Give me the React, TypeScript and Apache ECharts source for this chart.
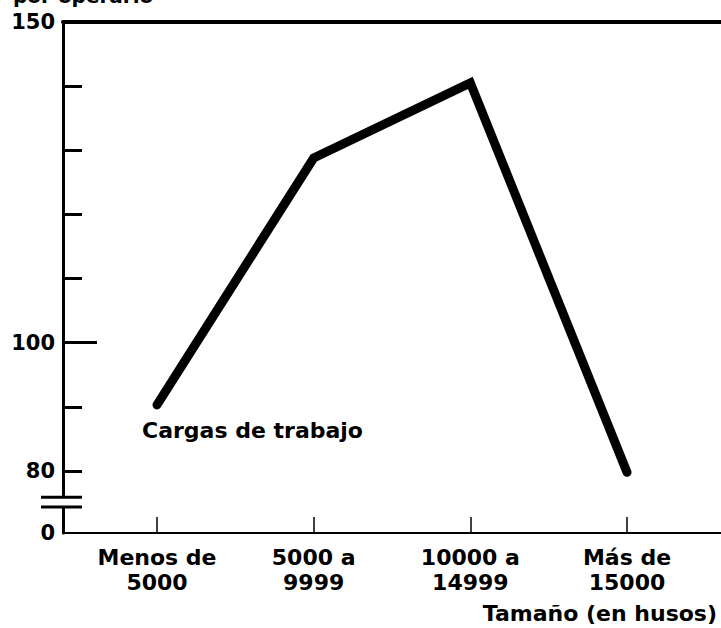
import React, { useEffect, useRef } from "react";
import * as echarts from "echarts";

const categories = ["Menos de\n5000", "5000 a\n9999", "10000 a\n14999", "Más de\n15000"];
const categoryPositions = [0, 1, 2, 3];
const cargas = [90.3, 128.8, 140.5, 79.8];
const yTicks = [80, 90, 100, 110, 120, 130, 140];
const yLongTicks = [100];
const yLabels = [70.33, 80, 100, 150];
const Y_MIN = 70.33;
const Y_MAX = 150;
const X_MIN = -0.6;
const X_MAX = 3.6;
const breakValues = [75.9, 74.4];
const seriesLabel = "Cargas de trabajo";
const yTitle = "por operario";
const xTitle = "Tamaño (en husos)";

const FONT = "DejaVu Sans";

export default function App() {
  const ref = useRef<HTMLDivElement>(null);
  useEffect(() => {
    if (!ref.current) return;
    const chart = echarts.init(ref.current, null, { renderer: "svg" });
    const option: any = {
      animation: false,
      backgroundColor: "#fff",
      grid: { left: 63, right: 0, top: 22, bottom: 95, containLabel: false },
      xAxis: [
        {
          type: "value",
          min: X_MIN,
          max: X_MAX,
          axisLine: { show: true, onZero: false, lineStyle: { color: "#000", width: 2 } },
          axisTick: {
            show: true,
            inside: true,
            length: 16,
            customValues: categoryPositions,
            lineStyle: { color: "#000", width: 1.5 },
          },
          axisLabel: {
            show: true,
            customValues: categoryPositions,
            formatter: (v: number) => categories[Math.round(v)] ?? "",
            color: "#000",
            fontFamily: FONT,
            fontWeight: "bold",
            fontSize: 22,
            lineHeight: 25,
            margin: 12,
          },
          splitLine: { show: false },
        },
        {
          type: "value",
          position: "top",
          min: X_MIN,
          max: X_MAX,
          axisLine: { show: true, onZero: false, lineStyle: { color: "#000", width: 4 } },
          axisTick: { show: false },
          axisLabel: { show: false },
          splitLine: { show: false },
        },
      ],
      yAxis: [
        {
          type: "value",
          min: Y_MIN,
          max: Y_MAX,
          axisLine: { show: true, onZero: false, lineStyle: { color: "#000", width: 3 } },
          axisTick: {
            show: true,
            inside: true,
            length: 19,
            customValues: yTicks,
            lineStyle: { color: "#000", width: 3 },
          },
          axisLabel: {
            show: true,
            customValues: yLabels,
            formatter: (v: number) => (v < 75 ? "0" : String(Math.round(v))),
            color: "#000",
            fontFamily: FONT,
            fontWeight: "bold",
            fontSize: 21,
            margin: 8,
          },
          splitLine: { show: false },
        },
        {
          type: "value",
          min: Y_MIN,
          max: Y_MAX,
          position: "left",
          axisLine: { show: false, onZero: false },
          axisTick: {
            show: true,
            inside: true,
            length: 34,
            customValues: yLongTicks,
            lineStyle: { color: "#000", width: 3 },
          },
          axisLabel: { show: false },
          splitLine: { show: false },
        },
      ],
      series: [
        {
          type: "line",
          data: cargas.map((v, i) => [categoryPositions[i], v]),
          symbol: "none",
          clip: false,
          lineStyle: { color: "#000", width: 9, cap: "round", join: "miter" },
        },
      ],
    };
    chart.setOption(option);

    const axisX = chart.convertToPixel({ xAxisIndex: 0 }, X_MIN) as number;
    const bY = breakValues.map((v) => chart.convertToPixel({ yAxisIndex: 0 }, v) as number);
    const textFont = `bold 22px "${FONT}"`;
    chart.setOption({
      graphic: [
        {
          type: "rect",
          shape: { x: axisX - 4, y: bY[0], width: 8, height: bY[1] - bY[0] },
          style: { fill: "#fff" },
          z: 100,
        },
        ...bY.map((y) => ({
          type: "line",
          shape: { x1: axisX - 22, y1: y, x2: axisX + 19, y2: y },
          style: { stroke: "#000", lineWidth: 3 },
          z: 101,
        })),
        {
          type: "text",
          x: 13,
          y: -4,
          style: {
            text: yTitle,
            font: `bold 20px "${FONT}"`,
            fill: "#000",
            align: "left",
            textAlign: "left",
            verticalAlign: "middle",
            textVerticalAlign: "middle",
          },
        },
        {
          type: "text",
          x: 142,
          y: 430,
          style: {
            text: seriesLabel,
            font: textFont,
            fill: "#000",
            align: "left",
            textAlign: "left",
            verticalAlign: "middle",
            textVerticalAlign: "middle",
          },
        },
        {
          type: "text",
          x: 717,
          y: 613,
          style: {
            text: xTitle,
            font: textFont,
            fill: "#000",
            align: "right",
            textAlign: "right",
            verticalAlign: "middle",
            textVerticalAlign: "middle",
          },
        },
      ],
    });
    return () => chart.dispose();
  }, []);
  return (
    <div
      ref={ref}
      style={{ position: "absolute", left: 0, top: 0, width: 721, height: 628, background: "#fff" }}
    />
  );
}
